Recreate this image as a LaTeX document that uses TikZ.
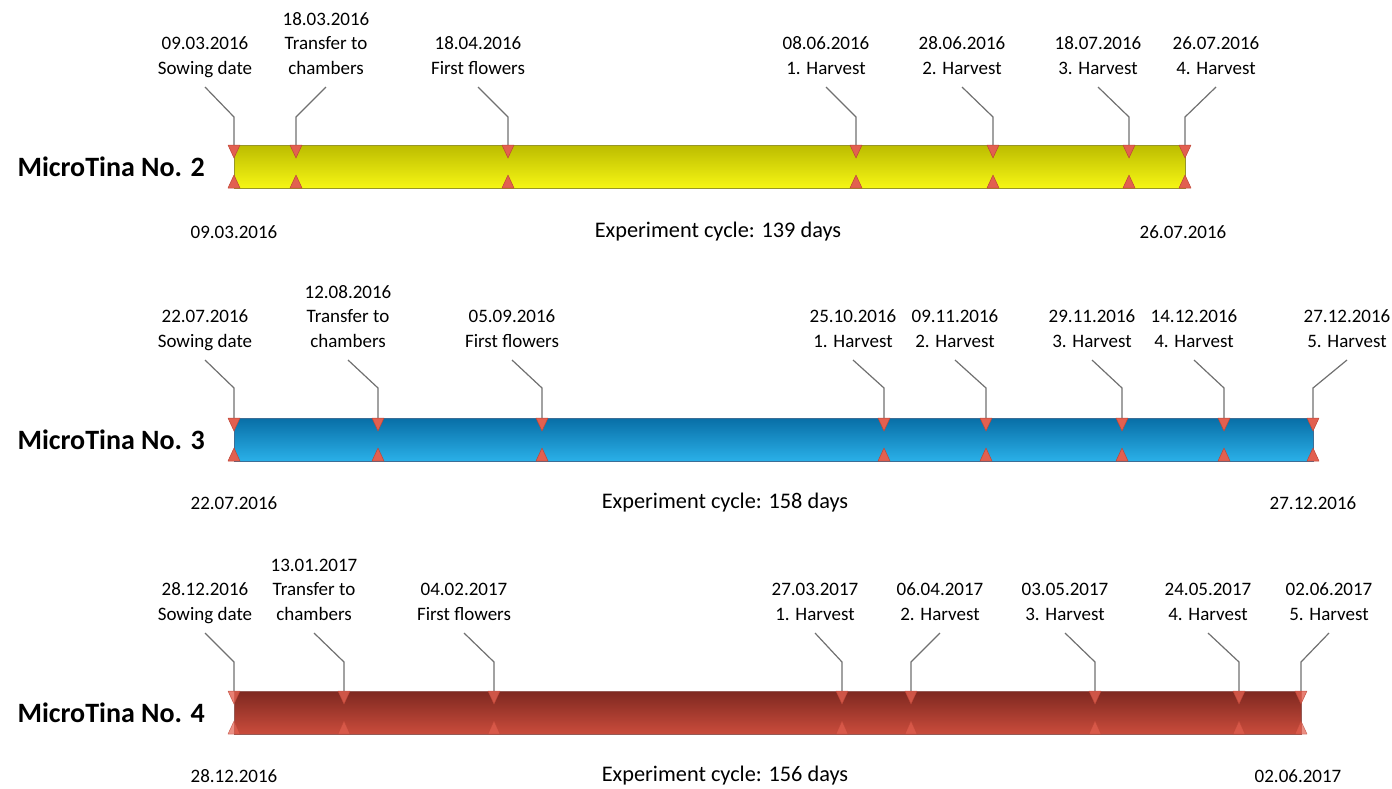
\documentclass[tikz,border=0pt]{standalone}
\usepackage{fontspec}
\setmainfont{Carlito}
\usepackage{tikz}
\definecolor{leadgray}{RGB}{112,112,112}
\definecolor{trired}{RGB}{226,96,80}
\definecolor{triedge}{RGB}{190,70,55}
\definecolor{ylwtop}{RGB}{188,188,0}
\definecolor{ylwbot}{RGB}{246,246,20}
\definecolor{ylwedge}{RGB}{150,150,40}
\definecolor{blutop}{RGB}{8,110,166}
\definecolor{blubot}{RGB}{42,176,232}
\definecolor{bluedge}{RGB}{60,110,150}
\definecolor{brntop}{RGB}{126,40,32}
\definecolor{brnbot}{RGB}{202,76,60}
\definecolor{brnedge}{RGB}{150,90,85}
\tikzset{
  evlabel/.style={anchor=south,align=center,inner xsep=0pt,inner ysep=5pt,
    font=\fontsize{19}{24.5}\selectfont},
  datelabel/.style={font=\fontsize{19}{24.5}\selectfont,inner sep=0pt},
  cyclabel/.style={font=\fontsize{22.3}{26}\selectfont,inner sep=0pt},
  rowname/.style={anchor=east,inner sep=0pt,font=\fontsize{28}{32}\selectfont\bfseries},
  leader/.style={leadgray,line width=1.2pt},
  tri/.style={fill=trired,draw=triedge,line width=0.5pt,line join=round}
}
\begin{document}
\begin{tikzpicture}[x=1pt,y=-1pt]
\useasboundingbox (0,0) rectangle (1392,788);
% MicroTina No. 2
\shade[top color=ylwtop,bottom color=ylwbot] (234,145) rectangle (1185,188);
\draw[ylwedge,line width=0.8pt] (234,145) rectangle (1185,188);
\node[rowname] (n2) at (205,166.5) {MicroTina No. 2};
\foreach \m/\l/\t [count=\i] in {234/205/{09.03.2016\\Sowing date},
    296/326/{18.03.2016\\Transfer to\\chambers},
    508/478/{18.04.2016\\First flowers},
    856/826/{08.06.2016\\1. Harvest},
    993/962/{28.06.2016\\2. Harvest},
    1129/1098/{18.07.2016\\3. Harvest},
    1185/1216/{26.07.2016\\4. Harvest}}{
  \node[evlabel] (a\i) at (\l,87) {\t\strut};
  \coordinate (a\i-bend) at (\m,117);
  \coordinate (a\i-top) at (\m,145);
  \coordinate (a\i-bot) at (\m,188);
  \draw[leader] (a\i.south) -- (a\i-bend) -- (a\i-top);
  \filldraw[tri] (a\i-top) ++(-6,0) -- ++(12,0) -- ++(-6,13) -- cycle;
  \filldraw[tri] (a\i-bot) ++(-6,0) -- ++(12,0) -- ++(-6,-13) -- cycle;
}
\node[datelabel] (s2) at (234,232) {09.03.2016};
\node[cyclabel] (cyc2) at (718,232) {Experiment cycle: 139 days};
\node[datelabel] (e2) at (1183,232) {26.07.2016};
% MicroTina No. 3
\shade[top color=blutop,bottom color=blubot] (234,418) rectangle (1313,461);
\draw[bluedge,line width=0.8pt] (234,418) rectangle (1313,461);
\node[rowname] (n3) at (205,439.5) {MicroTina No. 3};
\foreach \m/\l/\t [count=\i] in {234/205/{22.07.2016\\Sowing date},
    378/348/{12.08.2016\\Transfer to\\chambers},
    542/512/{05.09.2016\\First flowers},
    884/853/{25.10.2016\\1. Harvest},
    986/955/{09.11.2016\\2. Harvest},
    1122/1092/{29.11.2016\\3. Harvest},
    1224/1194/{14.12.2016\\4. Harvest},
    1313/1347/{27.12.2016\\5. Harvest}}{
  \node[evlabel] (b\i) at (\l,360) {\t\strut};
  \coordinate (b\i-bend) at (\m,388);
  \coordinate (b\i-top) at (\m,418);
  \coordinate (b\i-bot) at (\m,461);
  \draw[leader] (b\i.south) -- (b\i-bend) -- (b\i-top);
  \filldraw[tri] (b\i-top) ++(-6,0) -- ++(12,0) -- ++(-6,13) -- cycle;
  \filldraw[tri] (b\i-bot) ++(-6,0) -- ++(12,0) -- ++(-6,-13) -- cycle;
}
\node[datelabel] (s3) at (234,503) {22.07.2016};
\node[cyclabel] (cyc3) at (725,503) {Experiment cycle: 158 days};
\node[datelabel] (e3) at (1313,503) {27.12.2016};
% MicroTina No. 4
\shade[top color=brntop,bottom color=brnbot] (234,691) rectangle (1301,734);
\draw[brnedge,line width=0.8pt] (234,691) rectangle (1301,734);
\node[rowname] (n4) at (205,712.5) {MicroTina No. 4};
\foreach \m/\l/\t [count=\i] in {234/205/{28.12.2016\\Sowing date},
    344/314/{13.01.2017\\Transfer to\\chambers},
    494/464/{04.02.2017\\First flowers},
    842/815/{27.03.2017\\1. Harvest},
    911/940/{06.04.2017\\2. Harvest},
    1095/1065/{03.05.2017\\3. Harvest},
    1239/1208/{24.05.2017\\4. Harvest},
    1301/1329/{02.06.2017\\5. Harvest}}{
  \node[evlabel] (c\i) at (\l,633) {\t\strut};
  \coordinate (c\i-bend) at (\m,662);
  \coordinate (c\i-top) at (\m,691);
  \coordinate (c\i-bot) at (\m,734);
  \draw[leader] (c\i.south) -- (c\i-bend) -- (c\i-top);
  \filldraw[tri,opacity=0.8] (c\i-top) ++(-6,0) -- ++(12,0) -- ++(-6,13) -- cycle;
  \filldraw[tri,opacity=0.7] (c\i-bot) ++(-6,0) -- ++(12,0) -- ++(-6,-13) -- cycle;
}
\node[datelabel] (s4) at (234,776) {28.12.2016};
\node[cyclabel] (cyc4) at (725,776) {Experiment cycle: 156 days};
\node[datelabel] (e4) at (1298,776) {02.06.2017};
\end{tikzpicture}
\end{document}
